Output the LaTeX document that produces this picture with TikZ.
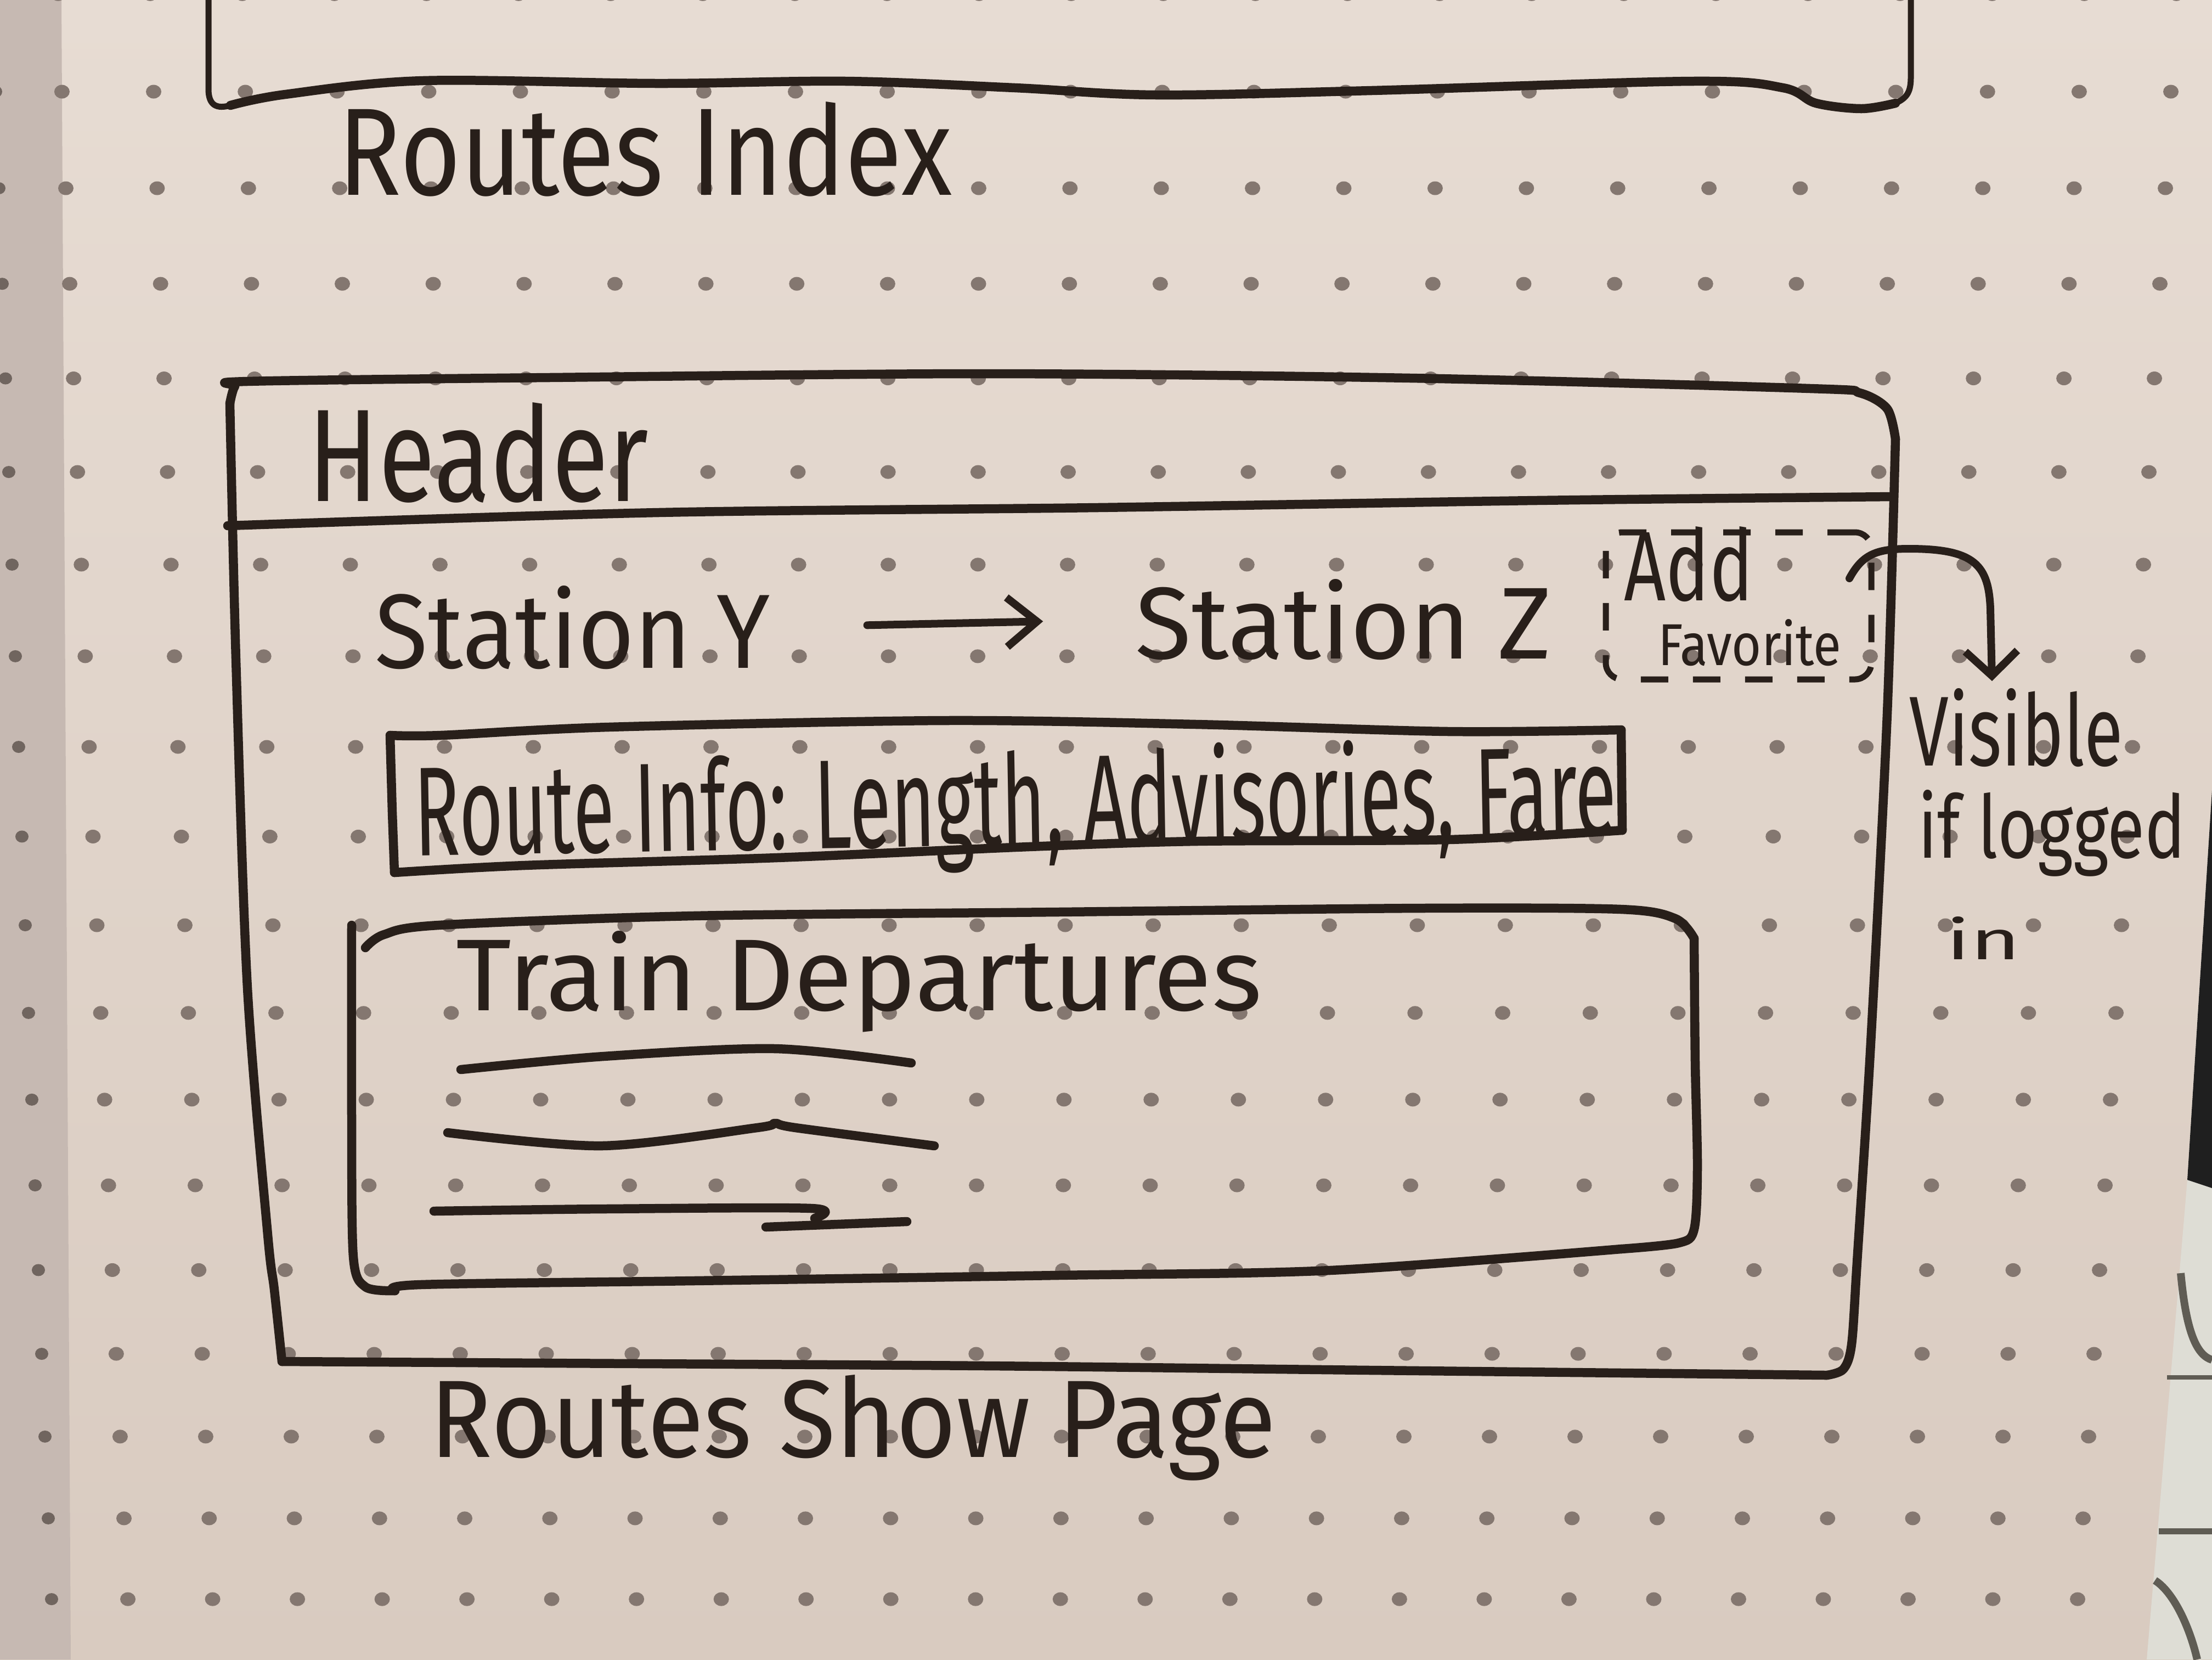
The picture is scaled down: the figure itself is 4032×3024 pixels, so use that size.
\documentclass[tikz,border=0pt]{standalone}
\usepackage{fontspec}
\setsansfont{Fira Sans}
\IfFontExistsTF{FiraSans-Light.otf}{\newfontfamily\thinhand{FiraSans-Light.otf}}{\newfontfamily\thinhand{Fira Sans}}
\usetikzlibrary{arrows.meta}
\definecolor{ink}{RGB}{40,31,26}
\definecolor{paperA}{RGB}{231,220,211}
\definecolor{paperB}{RGB}{217,203,192}
\definecolor{stripc}{RGB}{198,185,178}
\definecolor{dotc}{RGB}{132,119,112}
\definecolor{keyc}{RGB}{222,221,213}
\definecolor{keyline}{RGB}{95,92,84}
\newcommand{\hw}[3]{\resizebox{#1}{#2}{#3}}
\tikzset{
  hand/.style={inner sep=0pt, anchor=base, text=ink, font=\sffamily},
  thinhandtext/.style={inner sep=0pt, anchor=base, text=ink, font=\thinhand},
  pen/.style={draw=ink, line width=1.65mm, line cap=round, line join=round},
  thinpen/.style={draw=ink, line width=1.1mm, line cap=round, line join=round},
  arrowpen/.style={draw=ink, line width=1.4mm, line cap=round, line join=round},
  favbox/.style={draw=ink, line width=1.1mm, dash pattern=on 5mm off 4.5mm, rounded corners=3mm, minimum width=48.4mm, minimum height=26.8mm, inner sep=0pt},
}
\begin{document}
\begin{tikzpicture}[x=0.1mm,y=-0.1mm]
\useasboundingbox (0,0) rectangle (4032,3024);
\shade[top color=paperA, bottom color=paperB] (0,0) rectangle (4032,3024);
\fill[stripc] (0,0) -- (112,0) -- (129,3024) -- (0,3024) -- cycle;
% dot grid of the paper
\foreach \r in {-2,...,16}{
  \pgfmathsetmacro\yy{343+175.06*(\r)-0.898*(\r)*(\r)}
  \pgfmathsetmacro\xa{120+106*(\r)/15}
  \pgfmathsetmacro\xb{3947-150*(\r)/15}
  \pgfmathsetmacro\xd{(\xb-\xa)/23}
  \foreach \c in {0,...,23}{
    \pgfmathsetmacro\xx{\xa+\xd*\c}
    \fill[dotc] (\xx,\yy) ellipse [x radius=1.4mm, y radius=1.25mm];
  }
  \pgfmathsetmacro\xs{4+6*(\r-1)}
  \fill[dotc!85!black] (\xs,\yy) ellipse [x radius=1.2mm, y radius=1.1mm];
}
% beyond the right page edge
\fill[keyc] (4032,1440) -- (3987,2150) -- (3913,3024) -- (4032,3024) -- cycle;
\fill[black!88] (4032,1440) -- (3987,2150) -- (4032,2165) -- cycle;
\draw[keyline, line width=1.4mm] (3975,2320) .. controls (3985,2430) and (4005,2470) .. (4032,2478);
\draw[keyline, line width=0.8mm] (3950,2510) -- (4032,2510);
\draw[keyline, line width=1.1mm] (3935,2790) -- (4032,2790);
\draw[keyline, line width=1.4mm] (3928,2880) .. controls (3960,2900) and (3990,2960) .. (4005,3024);

% ---- top page box (Routes Index) ----
\draw[thinpen] (380,-20) -- (380,165) .. controls (381,192) and (395,199) .. (420,192);
\draw[pen] plot[smooth, tension=0.55] coordinates {(420,192) (520,172) (771,147) (1200,152) (1542,148) (1850,160) (2108,173) (2500,165) (3085,148) (3250,160) (3310,188) (3393,198) (3455,188)};
\draw[thinpen] (3455,188) .. controls (3478,178) and (3483,165) .. (3483,140) -- (3483,-20);
\node[thinhandtext] (idx) at (1176,355) {\hw{111.8mm}{17mm}{Routes Index}};

% ---- show page frame ----
\draw[pen] plot[smooth, tension=0.5] coordinates {(419,735) (428,704) (450,695) (1000,688) (1800,681) (2571,689) (3300,708) (3390,716) (3440,745) (3455,800)};
\draw[pen] plot[smooth, tension=0.5] coordinates {(3455,800) (3440,1300) (3410,1900) (3385,2300) (3375,2450) (3360,2495) (3330,2506)};
\draw[pen] plot[smooth, tension=0.5] coordinates {(3330,2506) (2500,2497) (1800,2489) (1000,2484) (514,2481)};
\draw[pen] plot[smooth, tension=0.5] coordinates {(514,2481) (500,2350) (488,2250) (451,1800) (430,1200) (419,735)};
% header separator
\draw[pen] plot[smooth, tension=0.5] coordinates {(415,958) (1200,934) (2000,925) (2800,912) (3450,905)};
\node[hand] (hdr) at (872,913) {\hw{62mm}{18mm}{Header}};

% ---- station row ----
\node[hand] (sy) at (1044,1217) {\hw{72mm}{15mm}{Station Y}};
\node[hand] (sz) at (2449,1200) {\hw{75.8mm}{14.5mm}{Station Z}};
\draw[arrowpen, -{Straight Barb[length=5.5mm, width=9mm]}, shorten <=17.6mm, shorten >=16.8mm] (sy.east) -- (sz.west);

% ---- add favorite (dashed) ----
\node[favbox] (fav) at (3169,1104) {};
\node[hand] (add) at (3078,1094) {\hw{23.5mm}{13.5mm}{Add}};
\node[hand] (favt) at (3189,1212) {\hw{33.4mm}{8.4mm}{Favorite}};

% ---- note ----
\node[hand] (vis) at (3675,1395) {\hw{38.9mm}{14.1mm}{Visible}};
\node[hand] (ifl) at (3740,1563) {\hw{48.8mm}{12.4mm}{if logged}};
\node[hand] (inn) at (3615,1748) {\hw{13.6mm}{7.8mm}{in}};
\coordinate (arrS) at (3371,1054);
\coordinate (arrE) at (3631,1241);
\draw[arrowpen, -{Straight Barb[length=4.5mm, width=9.5mm]}] (arrS) .. controls (3395,1010) and (3420,1000) .. (3480,1000) .. controls (3600,1000) and (3625,1030) .. (3628,1110) -- (arrE);

% ---- route info box ----
\draw[pen] plot[smooth, tension=0.5] coordinates {(711,1340) (803,1340) (1109,1325) (1722,1313) (2181,1320) (2641,1333) (2955,1330)};
\draw[pen] (2955,1330) -- (2957,1513);
\draw[pen] plot[smooth, tension=0.5] coordinates {(2957,1513) (2641,1530) (2181,1533) (1875,1543) (1416,1563) (956,1577) (719,1590)};
\draw[pen] (719,1590) -- (715,1480) -- (711,1340);
\node[hand, rotate=1] (info) at (1852,1540) {\hw{219mm}{18mm}{Route Info: Length, Advisories, Fare}};

% ---- train departures box ----
\draw[pen] plot[smooth, tension=0.5] coordinates {(666,1727) (700,1703) (799,1686) (1263,1669) (1927,1662) (2590,1655) (2955,1657) (3054,1674) (3088,1710)};
\draw[pen] plot[smooth, tension=0.5] coordinates {(3088,1710) (3090,1937) (3094,2128) (3088,2240) (3060,2265) (2955,2276)};
\draw[pen] plot[smooth, tension=0.5] coordinates {(2955,2276) (2424,2315) (1927,2324) (1263,2334) (766,2341) (720,2352)};
\draw[pen] plot[smooth, tension=0.5] coordinates {(641,1686) (641,2033) (644,2290) (666,2345) (720,2352)};
\node[thinhandtext] (td) at (1566,1841) {\hw{146.8mm}{14.5mm}{Train Departures}};
\draw[pen] plot[smooth, tension=0.5] coordinates {(840,1949) (1100,1925) (1413,1911) (1661,1937)};
\draw[pen] plot[smooth, tension=0.5] coordinates {(816,2064) (1097,2088) (1380,2055) (1413,2047) (1450,2055) (1703,2088)};
\draw[pen] plot[smooth, tension=0.5] coordinates {(791,2207) (1100,2203) (1479,2202) (1485,2220)};
\draw[pen] plot[smooth, tension=0.5] coordinates {(1396,2236) (1500,2232) (1653,2226)};

\node[thinhandtext] (show) at (1555,2655) {\hw{154.2mm}{15mm}{Routes Show Page}};
\end{tikzpicture}
\end{document}
